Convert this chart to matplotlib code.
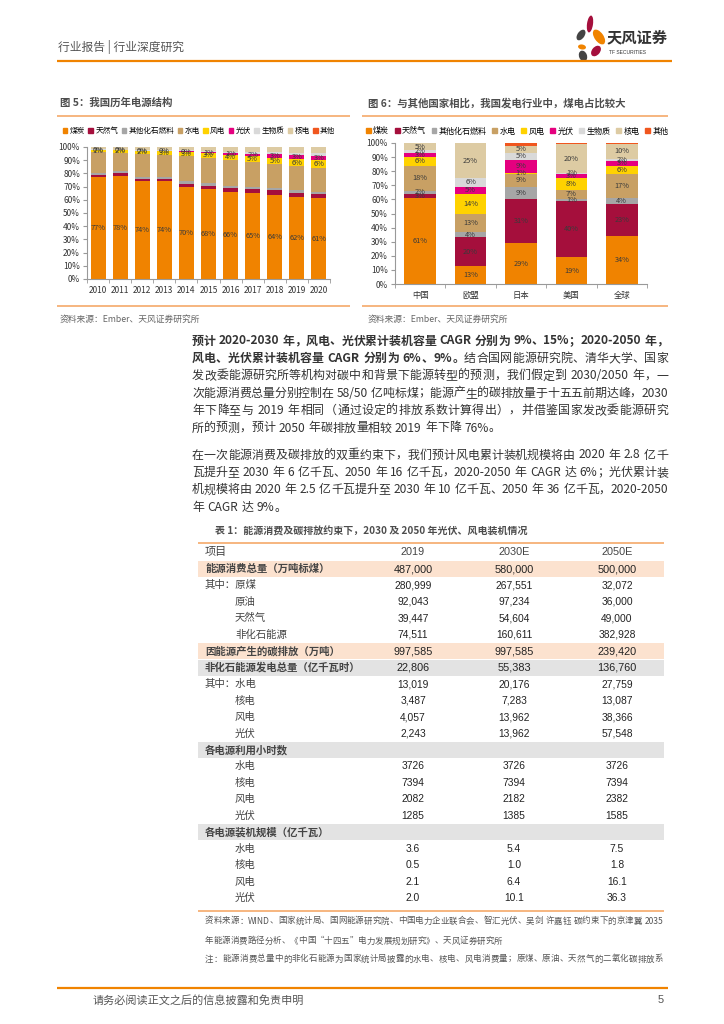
import re
import matplotlib
matplotlib.use('Agg')
import matplotlib.pyplot as plt
from matplotlib.patches import Patch, Ellipse, Rectangle
import numpy as np

plt.rcParams['font.family'] = ['Noto Sans CJK SC', 'DejaVu Sans']

# ---------------- data ----------------
sources = ['煤炭', '天然气', '其他化石燃料', '水电', '风电', '光伏', '生物质', '核电', '其他']
colors = ['#F08300', '#A50F3C', '#A6A6A6', '#C8A064', '#FFD200', '#E5007F', '#D9D9D9', '#DDCBA3', '#F0561E']

years = ['2010', '2011', '2012', '2013', '2014', '2015', '2016', '2017', '2018', '2019', '2020']
coal = [77, 78, 74, 74, 70, 68, 66, 65, 64, 62, 61]
gas = [1.5, 2.0, 2.0, 2.0, 2.2, 2.6, 2.8, 3.0, 3.1, 3.2, 3.2]
oth_fossil = [1.5, 1.5, 1.5, 1.5, 1.8, 1.9, 2.0, 1.9, 2.0, 2.0, 1.9]
hydro = [16.5, 14.3, 17.5, 16.6, 19.4, 19.5, 19.5, 18.5, 17.7, 18.1, 17.8]
wind = [1.2, 1.6, 2.0, 2.6, 2.8, 3.2, 3.9, 4.7, 5.1, 5.6, 6.1]
solar = [0.02, 0.1, 0.1, 0.2, 0.4, 0.7, 1.1, 1.9, 2.6, 3.0, 3.4]
bio = [0.5, 0.6, 0.7, 0.8, 1.0, 1.1, 1.2, 1.3, 1.4, 1.5, 1.8]
nuclear = [1.8, 1.8, 2.0, 2.1, 2.4, 3.0, 3.5, 3.7, 4.1, 4.6, 4.7]
other = [0, 0, 0, 0, 0, 0, 0, 0, 0, 0, 0.1]

regions = ['中国', '欧盟', '日本', '美国', '全球']
coal2 = [61, 13, 29, 19, 34]
gas2 = [3, 20, 31, 40, 23]
oth_fossil2 = [2, 4, 9, 1, 4]
hydro2 = [18, 13, 9, 7, 17]
wind2 = [6, 14, 1, 8, 6]
solar2 = [3, 5, 9, 3, 3]
bio2 = [2, 6, 5, 1, 2]
nuclear2 = [5, 25, 5, 20, 10]
other2 = [0.4, 0.5, 2, 1, 1]

table_cols = ['2019', '2030E', '2050E']
table_rows = [
    ('能源消费总量（万吨标煤）', ['487,000', '580,000', '500,000'], 'peach', 0),
    ('其中：原煤', ['280,999', '267,551', '32,072'], None, 0),
    ('原油', ['92,043', '97,234', '36,000'], None, 1),
    ('天然气', ['39,447', '54,604', '49,000'], None, 1),
    ('非化石能源', ['74,511', '160,611', '382,928'], None, 1),
    ('因能源产生的碳排放（万吨）', ['997,585', '997,585', '239,420'], 'peach', 0),
    ('非化石能源发电总量（亿千瓦时）', ['22,806', '55,383', '136,760'], 'gray', 0),
    ('其中：水电', ['13,019', '20,176', '27,759'], None, 0),
    ('核电', ['3,487', '7,283', '13,087'], None, 1),
    ('风电', ['4,057', '13,962', '38,366'], None, 1),
    ('光伏', ['2,243', '13,962', '57,548'], None, 1),
    ('各电源利用小时数', ['', '', ''], 'gray', 0),
    ('水电', ['3726', '3726', '3726'], None, 1),
    ('核电', ['7394', '7394', '7394'], None, 1),
    ('风电', ['2082', '2182', '2382'], None, 1),
    ('光伏', ['1285', '1385', '1585'], None, 1),
    ('各电源装机规模（亿千瓦）', ['', '', ''], 'gray', 0),
    ('水电', ['3.6', '5.4', '7.5'], None, 1),
    ('核电', ['0.5', '1.0', '1.8'], None, 1),
    ('风电', ['2.1', '6.4', '16.1'], None, 1),
    ('光伏', ['2.0', '10.1', '36.3'], None, 1),
]

# ---------------- page ----------------
W, H = 724, 1024
fig = plt.figure(figsize=(7.24, 10.24), dpi=100)
page = fig.add_axes([0, 0, 1, 1], zorder=0)
page.set_xlim(0, W)
page.set_ylim(H, 0)
page.axis('off')

ORANGE = '#F08300'
LORANGE = '#F5A96A'
TXT = '#333333'
CJK = ['Noto Sans CJK SC', 'DejaVu Sans']
LAT = ['Liberation Sans', 'Noto Sans CJK SC']

renderer = fig.canvas.get_renderer()


def hline(x0, x1, y, color, lw):
    page.plot([x0, x1], [y, y], color=color, lw=lw, solid_capstyle='butt')


def t(x, y, s, size=8, color=TXT, weight='normal', ha='left', va='center', family=CJK):
    return page.text(x, y, s, fontsize=size, color=color, fontweight=weight, ha=ha, va=va, family=family)


def tok_width(tok, size, weight, family):
    if tok.isspace():
        return size * 100 / 72 * 0.28 * len(tok)
    tt = page.text(0, 0, tok, fontsize=size, fontweight=weight, family=family)
    w = tt.get_window_extent(renderer).width
    tt.remove()
    return w


def line(x0, x1, y, segments, size, color=TXT, justify=True, family=CJK):
    toks = []
    for s, wgt in segments:
        for tok in re.findall(r'[A-Za-z0-9.,/%\-]+|\s+|.', s):
            toks.append((tok, wgt))
    widths = [tok_width(tk, size, wg, family) for tk, wg in toks]
    nat = sum(widths)
    extra = 0
    if justify and len(toks) > 1:
        extra = ((x1 - x0) - nat) / (len(toks) - 1)
    x = x0
    for (tk, wg), wd in zip(toks, widths):
        if not tk.isspace():
            page.text(x, y, tk, fontsize=size, fontweight=wg, color=color, ha='left', va='center', family=family)
        x += wd + extra


# header
t(58, 47, '行业报告 | 行业深度研究', size=8.5, color='#555555')
hline(57, 672, 61, ORANGE, 1.6)
# logo
petals = [((590, 24), 6, 17, 8, '#A50F3C'),
          ((599, 37), 9, 17, -35, ORANGE),
          ((581, 35), 7, 12, 35, '#444444'),
          ((582, 47), 8, 5, 10, ORANGE),
          ((596, 51), 8, 12, 40, '#A50F3C'),
          ((583, 56), 8, 11, -20, '#444444')]
for c, w_, h_, a, col in petals:
    page.add_patch(Ellipse(c, w_, h_, angle=a, color=col, lw=0))
t(607, 37, '天风证券', size=11, color='#333333', weight='bold')
t(609, 53, 'TF SECURITIES', size=3.6, color='#333333', family=LAT)

# chart frames
t(60, 103, '图 5：我国历年电源结构', size=7.5, color='#4d4d4d', weight='bold')
t(368, 103, '图 6：与其他国家相比，我国发电行业中，煤电占比较大', size=7.5, color='#4d4d4d', weight='bold')
hline(57, 350, 116, LORANGE, 1.2)
hline(362, 668, 116, LORANGE, 1.2)
hline(57, 350, 306, LORANGE, 1.2)
hline(362, 668, 306, LORANGE, 1.2)
t(60, 319, '资料来源：Ember、天风证券研究所', size=6.3, color='#666666')
t(368, 319, '资料来源：Ember、天风证券研究所', size=6.3, color='#666666')


def stacked(ax, cats, series, labels_idx, width, fsize):
    x = np.arange(len(cats))
    bottom = np.zeros(len(cats))
    for i, (vals, col) in enumerate(zip(series, colors)):
        v = np.array(vals, dtype=float) / 100.0
        ax.bar(x, v, width, bottom=bottom, color=col, lw=0)
        if i in labels_idx:
            for xi, (b, vv) in enumerate(zip(bottom, v)):
                ax.text(xi, b + vv / 2, f'{vv * 100:.0f}%', ha='center', va='center',
                        fontsize=fsize, color='#3a3a3a')
        bottom += v
    ax.set_xlim(-0.5, len(cats) - 0.5)
    ax.set_ylim(0, 1)
    ax.set_yticks(np.arange(0, 1.01, 0.1))
    ax.set_yticklabels([f'{int(round(v * 100))}%' for v in np.arange(0, 1.01, 0.1)])
    ax.set_xticks(x)
    ax.set_xticklabels(cats)
    ax.set_xticks(np.arange(-0.5, len(cats), 1), minor=True)
    ax.tick_params(axis='x', which='major', length=0, labelsize=6, colors='#333333', pad=5)
    ax.tick_params(axis='x', which='minor', length=3, color='#999999')
    ax.tick_params(axis='y', length=3, labelsize=6, colors='#333333', color='#999999', pad=2)
    for s in ['top', 'right']:
        ax.spines[s].set_visible(False)
    for s in ['left', 'bottom']:
        ax.spines[s].set_color('#999999')
        ax.spines[s].set_linewidth(0.8)


def fbox(x0, x1, ytop, ybot):
    return [x0 / W, 1 - ybot / H, (x1 - x0) / W, (ybot - ytop) / H]


ax1 = fig.add_axes(fbox(87, 330, 147, 279), zorder=2)
series1 = [coal, gas, oth_fossil, hydro, wind, solar, bio, nuclear, other]
stacked(ax1, years, series1, [0, 4, 5], 0.68, 5.3)

ax2 = fig.add_axes(fbox(395, 647, 143, 284), zorder=2)
series2 = [coal2, gas2, oth_fossil2, hydro2, wind2, solar2, bio2, nuclear2, other2]
stacked(ax2, regions, series2, [0, 1, 2, 3, 4, 5, 6, 7], 0.63, 5.3)

handles = [Patch(color=c, label=s) for c, s in zip(colors, sources)]
fig.legend(handles=handles, loc='center', bbox_to_anchor=(199 / W, 1 - 131 / H), ncol=9,
           fontsize=5.5, frameon=False, handlelength=0.6, handleheight=0.6,
           handletextpad=0.3, columnspacing=0.45, borderpad=0)
fig.legend(handles=handles, loc='center', bbox_to_anchor=(517 / W, 1 - 131 / H), ncol=9,
           fontsize=5.8, frameon=False, handlelength=0.6, handleheight=0.6,
           handletextpad=0.3, columnspacing=0.7, borderpad=0)

# ---------------- paragraphs ----------------
PX0, PX1 = 192, 668
PS = 8.6
LS = 17.4
p1 = [
    ([('预计 2020-2030 年，风电、光伏累计装机容量 CAGR 分别为 9%、15%；2020-2050 年，', 'bold')], True),
    ([('风电、光伏累计装机容量 CAGR 分别为 6%、9%。', 'bold'), ('结合国网能源研究院、清华大学、国家', 'normal')], True),
    ([('发改委能源研究所等机构对碳中和背景下能源转型的预测，我们假定到 2030/2050 年，一', 'normal')], True),
    ([('次能源消费总量分别控制在 58/50 亿吨标煤；能源产生的碳排放量于十五五前期达峰，2030', 'normal')], True),
    ([('年下降至与 2019 年相同（通过设定的排放系数计算得出），并借鉴国家发改委能源研究', 'normal')], True),
    ([('所的预测，预计 2050 年碳排放量相较 2019 年下降 76%。', 'normal')], False),
]
for i, (segs, j) in enumerate(p1):
    line(PX0, PX1, 341 + i * LS, segs, PS, justify=j)

p2 = [
    ('在一次能源消费及碳排放的双重约束下，我们预计风电累计装机规模将由 2020 年 2.8 亿千', True),
    ('瓦提升至 2030 年 6 亿千瓦、2050 年 16 亿千瓦，2020-2050 年 CAGR 达 6%；光伏累计装', True),
    ('机规模将由 2020 年 2.5 亿千瓦提升至 2030 年 10 亿千瓦、2050 年 36 亿千瓦，2020-2050', True),
    ('年 CAGR 达 9%。', False),
]
for i, (s, j) in enumerate(p2):
    line(PX0, PX1, 455 + i * LS, [(s, 'normal')], PS, justify=j)

# ---------------- table ----------------
t(215, 532, '表 1：能源消费及碳排放约束下，2030 及 2050 年光伏、风电装机情况', size=7.2,
  color='#4d4d4d', weight='bold')
TX0, TX1 = 198, 664
hline(TX0, TX1, 543, LORANGE, 1.2)
colx = [413, 514, 617]
t(205, 552, '项目', size=8, color='#444444')
for cx, c in zip(colx, table_cols):
    t(cx, 552, c, size=7.8, color='#444444', ha='center', family=LAT)

ROW0, RH = 569, 16.45
for i, (lab, vals, shade, indent) in enumerate(table_rows):
    y = ROW0 + i * RH
    if shade == 'peach':
        page.add_patch(Rectangle((TX0, y - 8), TX1 - TX0, 16, color='#FCE2CF', lw=0, zorder=0))
    elif shade == 'gray':
        page.add_patch(Rectangle((TX0, y - 8), TX1 - TX0, 16, color='#E3E3E3', lw=0, zorder=0))
    bold = shade is not None
    t(235 if indent else 205, y, lab, size=7.5, color='#444444', weight='bold' if bold else 'normal')
    for cx, v in zip(colx, vals):
        if v:
            t(cx, y, v, size=7.8 if bold else 7.4, color='#222222', ha='center', family=LAT)
hline(TX0, TX1, 911, LORANGE, 1.2)

# footnotes
FS = 6.1
line(205, 663, 921, [('资料来源：WIND、国家统计局、国网能源研究院、中国电力企业联合会、智汇光伏、吴剑 许嘉钰 碳约束下的京津冀 2035', 'normal')], FS, color='#555555', justify=True)
line(205, 663, 941, [('年能源消费路径分析、《中国“十四五”电力发展规划研究》、天风证券研究所', 'normal')], FS, color='#555555', justify=False)
line(205, 663, 959, [('注：能源消费总量中的非化石能源为国家统计局披露的水电、核电、风电消费量；原煤、原油、天然气的二氧化碳排放系', 'normal')], FS, color='#555555', justify=True)

# footer
hline(57, 668, 988, ORANGE, 1.6)
t(93, 1000, '请务必阅读正文之后的信息披露和免责申明', size=8, color='#555555')
t(658, 1000, '5', size=8, color='#555555', family=LAT)

fig.savefig('out.png', dpi=100)
